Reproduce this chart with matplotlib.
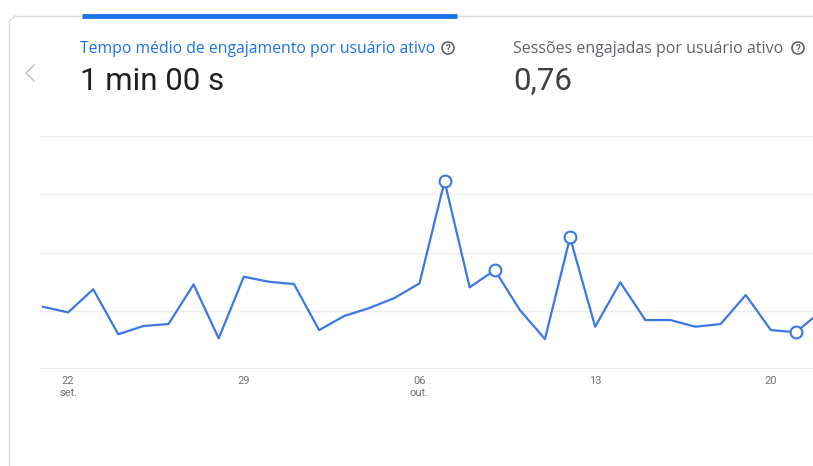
import matplotlib.pyplot as plt
from matplotlib.patches import Circle

# Tempo médio de engajamento por dia (segundos), 21 set. -> 22 out.
days = list(range(32))
seconds = [53.4, 48.6, 68.4, 29.8, 36.9, 38.6, 72.6, 26.3, 79.2, 74.9,
           72.9, 33.4, 45.5, 52.3, 60.9, 73.5, 161.2, 70.1, 84.9, 50.6,
           25.7, 112.9, 36.3, 74.4, 42.0, 42.0, 36.3, 38.6, 63.5, 33.4,
           31.5, 49.7]
anomaly_days = [16, 18, 21, 30]
tick_days = [1, 8, 15, 22, 29]
tick_labels = ["22\nset.", "29", "06\nout.", "13", "20"]
grid_values = [50, 100, 150, 200]

plt.rcParams['font.family'] = ['Roboto', 'DejaVu Sans']

W, H = 813, 466
fig = plt.figure(figsize=(W / 100, H / 100), dpi=100)

#======================== Card chrome, drawn in pixel coords
bg = fig.add_axes([0, 0, 1, 1])
bg.set_xlim(0, W)
bg.set_ylim(H, 0)
bg.axis("off")

bg.plot([8.5, 8.5], [22, H], color="#dadce0", lw=1)
bg.plot([16, W], [15.5, 15.5], color="#dadce0", lw=1)
bg.plot([8.5, 16], [22, 15.5], color="#dadce0", lw=1)
bg.plot([82, 457], [16, 16], color="#1a73e8", lw=3.5, solid_capstyle="butt")

# back chevron
bg.plot([34, 26, 34], [65, 73, 81], color="#bdc1c6", lw=1.1)

small = ['Open Sans', 'DejaVu Sans']
bg.text(80, 49, "Tempo médio de engajamento por usuário ativo", color="#1a73e8",
        fontsize=11.3, va="center", ha="left", family=small)
bg.text(80, 81, "1 min 00 s", color="#202124", fontsize=22.5, va="center", ha="left")
bg.text(513, 49, "Sessões engajadas por usuário ativo", color="#5f6368",
        fontsize=11.5, va="center", ha="left", family=small)
bg.text(513, 81, "0,76", color="#3c4043", fontsize=22.5, va="center", ha="left")

for cx in (448, 798):
    bg.add_patch(Circle((cx, 48), 6, fill=False, ec="#5f6368", lw=1.2))
    bg.text(cx, 48.5, "?", color="#5f6368", fontsize=7, ha="center", va="center",
            fontweight="bold")

#======================== Line chart
ax = fig.add_axes([40 / W, (H - 369) / H, (W - 40) / W, 233 / H])
ax.set_xlim(-0.12, 30.68)
ax.set_ylim(0, 200)

for g in grid_values:
    ax.axhline(g, color="#ececec", lw=1, zorder=0)
ax.axhline(0, color="#e3e3e3", lw=1.2, zorder=0)

ax.plot(days, seconds, color="#3b78e7", lw=1.6, zorder=3)
ax.plot([days[i] for i in anomaly_days], [seconds[i] for i in anomaly_days],
        ls="none", marker="o", ms=8.5, mfc="white", mec="#3b78e7", mew=1.5,
        zorder=4, clip_on=False)

ax.set_xticks(tick_days)
ax.set_xticklabels(tick_labels, fontsize=8, color="#70757a", linespacing=1.25)
ax.tick_params(axis="x", length=0, pad=5)
ax.set_yticks([])
for s in ax.spines.values():
    s.set_visible(False)
ax.patch.set_alpha(0)

fig.savefig("out.png", dpi=100)
